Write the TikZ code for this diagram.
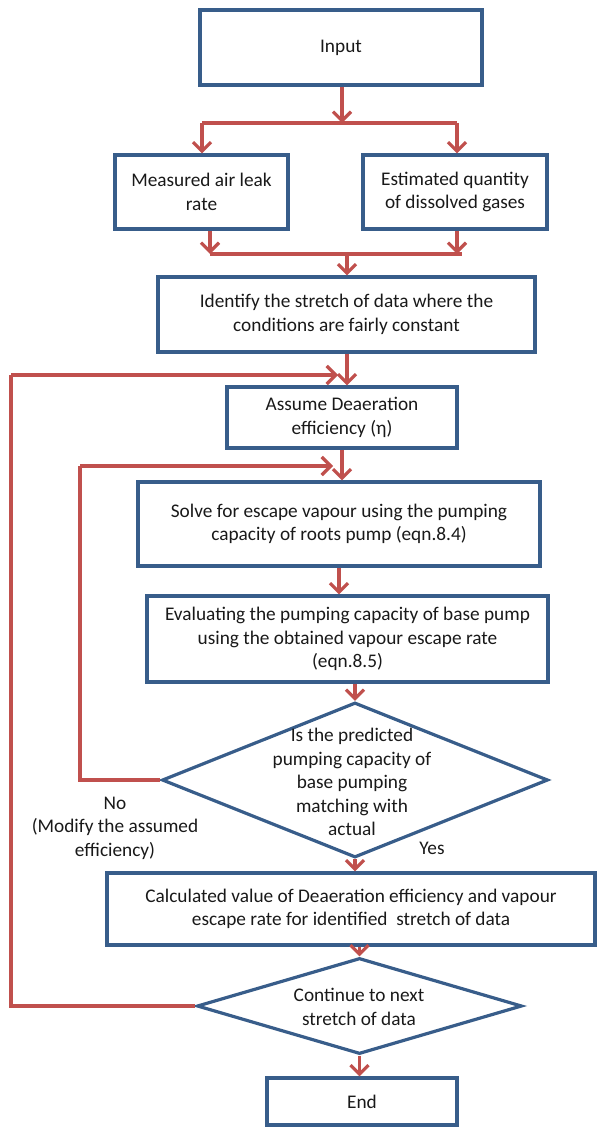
\documentclass[tikz,border=0pt]{standalone}
\usepackage{fontspec}
\setmainfont{Carlito}
\usetikzlibrary{arrows.meta,shapes.geometric}
\definecolor{boxblue}{RGB}{56,93,138}
\definecolor{arrred}{RGB}{192,80,77}
\definecolor{txt}{RGB}{25,25,25}
\tikzset{
  procbox/.style={draw=boxblue,line width=3.2pt,rectangle,inner sep=0pt,align=center,text=txt},
  decbox/.style={draw=boxblue,line width=3.2pt,diamond,inner sep=0pt},
  lbl/.style={align=center,text=txt,inner sep=0pt},
  conn/.style={draw=arrred,line width=3.2pt},
  arr/.style={conn,-{Straight Barb[length=9pt,width=18pt]}},
}
\begin{document}
\begin{tikzpicture}[x=1pt,y=-1pt,font=\fontsize{19.3}{23.5}\selectfont]
\useasboundingbox (0,0) rectangle (597,1129);
% nodes
\node[procbox,minimum width=282,minimum height=75] (input) at (341,47.5) {Input};
\node[procbox,minimum width=173,minimum height=74] (leak) at (201.5,192) {Measured air leak\\rate};
\node[procbox,minimum width=184,minimum height=74] (gas) at (455,192) {Estimated quantity\\of dissolved gases};
\node[procbox,minimum width=377,minimum height=75] (ident) at (346.5,314.5) {Identify the stretch of data where the\\conditions are fairly constant};
\node[procbox,minimum width=230,minimum height=61] (assume) at (342,417.5) {Assume Deaeration\\efficiency (η)};
\node[procbox,minimum width=402,minimum height=84] (solve) at (339,524) {Solve for escape vapour using the pumping\\capacity of roots pump (eqn.8.4)};
\node[procbox,minimum width=401,minimum height=86] (eval) at (347.5,639) {Evaluating the pumping capacity of base pump\\using the obtained vapour escape rate\\(eqn.8.5)};
\node[decbox,minimum width=386,minimum height=155] (dec1) at (355,780) {};
\node[lbl] (dec1t) at (352,782) {Is the predicted\\pumping capacity of\\base pumping\\matching with\\actual};
\node[procbox,minimum width=488,minimum height=72] (calc) at (351,909) {Calculated value of Deaeration efficiency and vapour\\escape rate for identified \ stretch of data};
\node[decbox,minimum width=325,minimum height=96] (dec2) at (359.5,1006) {};
\node[lbl] (dec2t) at (359,1007) {Continue to next\\stretch of data};
\node[procbox,minimum width=190,minimum height=47] (end) at (362,1101.5) {End};
\node[lbl] (no) at (115,828) {No\\(Modify the assumed\\efficiency)};
\node[lbl] (yes) at (432,848) {Yes};
% junction coordinates
\coordinate (s1) at (342,123);
\coordinate (sl) at (202,123);
\coordinate (sr) at (457,123);
\coordinate (ml) at (210,254);
\coordinate (mr) at (457,254);
\coordinate (mre) at (462,254);
\coordinate (mc) at (347,254);
\coordinate (outer) at (11,375);
\coordinate (outerend) at (338,375);
\coordinate (inner) at (80,466);
\coordinate (innerend) at (333,466);
% connectors
\draw[arr] (input.south -| s1) -- (s1);
\draw[conn] (sl) -- (sr);
\draw[arr] (sl) -- (sl |- leak.north);
\draw[arr] (sr) -- (sr |- gas.north);
\draw[arr] (ml |- leak.south) -- (ml);
\draw[arr] (mr |- gas.south) -- (mr);
\draw[conn] (ml) -- (mre);
\draw[arr] (mc) -- (mc |- ident.north);
\draw[arr] (mc |- ident.south) -- (mc |- assume.north);
\draw[conn] (dec2.west) -| (outer);
\draw[arr] (outer) -- (outerend);
\draw[arr] (assume.south) -- (assume.south |- solve.north);
\draw[conn] (dec1.west) -| (inner);
\draw[arr] (inner) -- (innerend);
\draw[arr] (solve.south) -- (solve.south |- eval.north);
\draw[arr] (eval.south -| dec1.north) -- (dec1.north);
\draw[arr] (dec1.south) -- (dec1.south |- calc.north);
\draw[arr] (calc.south -| dec2.north) -- (dec2.north);
\draw[arr] (dec2.south) -- (dec2.south |- end.north);
\end{tikzpicture}
\end{document}
